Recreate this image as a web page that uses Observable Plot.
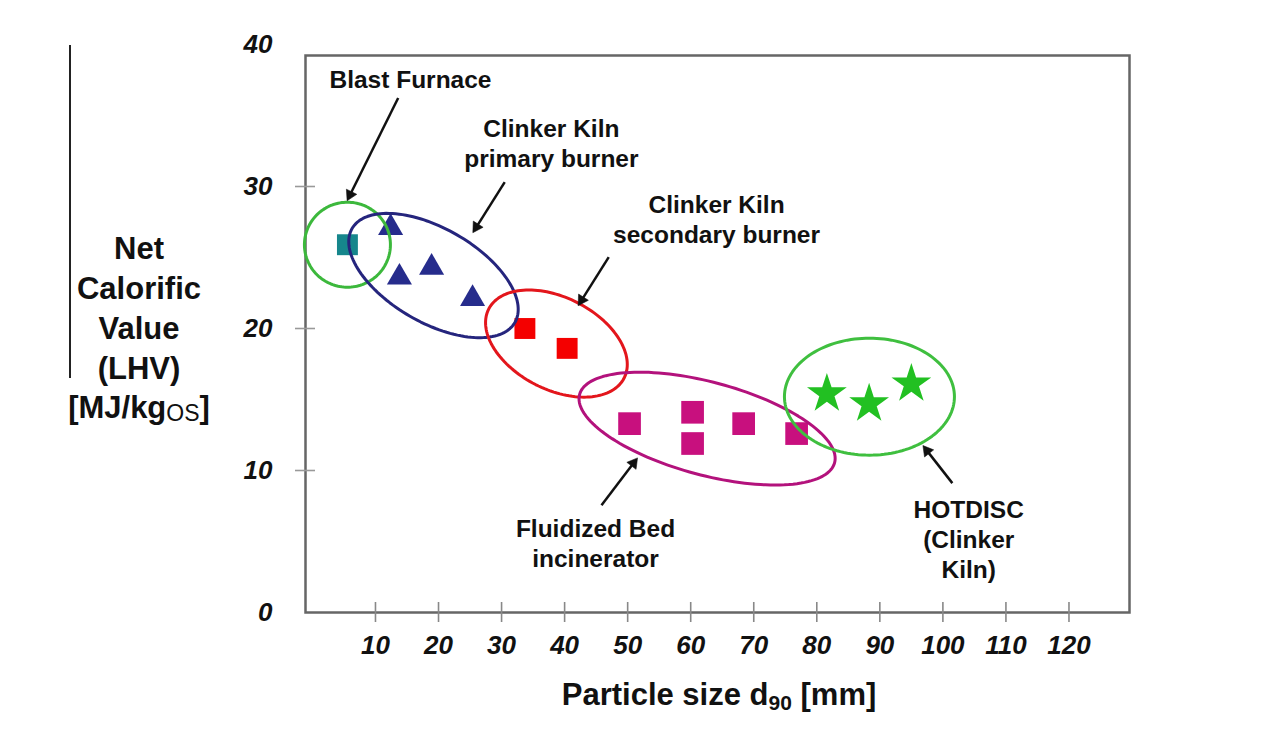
<!DOCTYPE html>
<html><head><meta charset="utf-8">
<script src="https://cdn.jsdelivr.net/npm/d3@7"></script>
<script src="https://cdn.jsdelivr.net/npm/@observablehq/plot@0.6"></script>
<style>
body{margin:0;background:#fff;}
#chart{width:1264px;height:730px;}
</style></head><body><div id="chart"></div>
<script>
// ---- data ----
const xTicks = [10, 20, 30, 40, 50, 60, 70, 80, 90, 100, 110, 120];
const yTicks = [0, 10, 20, 30, 40];
const yTickMarks = [10, 20, 30];

const blastX = [5.55];
const blastY = [25.9];
const primaryX = [12.4, 13.8, 18.9, 25.4];
const primaryY = [27.1, 23.6, 24.3, 22.1];
const secondaryX = [33.7, 40.4];
const secondaryY = [20.0, 18.6];
const fluidX = [50.3, 60.3, 60.3, 68.4, 76.8];
const fluidY = [13.3, 14.1, 11.9, 13.3, 12.6];
const hotdiscX = [81.6, 88.3, 95.0];
const hotdiscY = [15.4, 14.7, 16.1];

const labelTexts = ["Blast Furnace", "Clinker Kiln\nprimary burner", "Clinker Kiln\nsecondary burner", "Fluidized Bed\nincinerator", "HOTDISC\n(Clinker\nKiln)"];
const labelX = [15.55, 37.9, 64.1, 44.9, 104.1];
const labelY = [37.63, 33.13, 27.74, 4.92, 5.24];

const arrowX1 = [13.6, 30.5, 47.0, 45.85, 101.5];
const arrowY1 = [36.23, 30.31, 25.03, 7.56, 9.11];
const arrowX2 = [5.55, 25.5, 42.2, 51.5, 96.9];
const arrowY2 = [29.04, 26.79, 21.65, 10.85, 11.72];

// group ellipses: centre in data units
const ellCX = [5.55, 19.2, 38.7, 62.6, 88.35];
const ellCY = [25.9, 23.73, 18.94, 12.95, 15.2];

// ---- layout / style ----
const W = 1264, H = 730, mL = 305, mR = 135, mT = 44, mB = 118;
const xDomain = [-1.1, 129.6], yDomain = [0, 40];
const kx = (W - mL - mR) / (xDomain[1] - xDomain[0]);
const ky = (H - mT - mB) / (yDomain[1] - yDomain[0]);
const FONT = "'Liberation Sans', Arial, Helvetica, sans-serif";
const ellShape = [
  {a: 43, b: 42.5, deg: 0, color: "#3cb83c"},
  {a: 94, b: 47, deg: 30, color: "#25257d"},
  {a: 76, b: 46, deg: 27, color: "#e3161c"},
  {a: 132, b: 46.5, deg: 15, color: "#b3127c"},
  {a: 85, b: 58.5, deg: 0, color: "#3fbf3f"}
];

function ellipse(cx, cy, a, b, deg) {
  const th = deg * Math.PI / 180, pts = [];
  for (let i = 0; i < 144; i++) {
    const t = i / 144 * 2 * Math.PI;
    const px = a * Math.cos(t), py = b * Math.sin(t);
    const X = px * Math.cos(th) - py * Math.sin(th);
    const Y = px * Math.sin(th) + py * Math.cos(th);
    pts.push({x: cx + X / kx, y: cy - Y / ky});
  }
  return pts;
}
const zip = (xs, ys) => xs.map((x, i) => ({x, y: ys[i]}));

const labels = labelTexts.map((t, i) => ({t, x: labelX[i], y: labelY[i]}));
const HEAD_BACK = 6; // px from tip to arrowhead centroid
const arrows = arrowX1.map((x1, i) => {
  const x2 = arrowX2[i], y2 = arrowY2[i], y1 = arrowY1[i];
  const dxp = (x2 - x1) * kx, dyp = -(y2 - y1) * ky; // screen vector
  const len = Math.hypot(dxp, dyp);
  const ux = dxp / len, uy = dyp / len;
  return {
    x1, y1, x2, y2,
    hx: x2 - ux * HEAD_BACK / kx, hy: y2 + uy * HEAD_BACK / ky,
    lx: x2 - ux * (HEAD_BACK + 2) / kx, ly: y2 + uy * (HEAD_BACK + 2) / ky,
    rot: Math.atan2(ux, -uy) * 180 / Math.PI
  };
});

const ellMarks = ellCX.map((cx, i) => Plot.line(ellipse(cx, ellCY[i], ellShape[i].a, ellShape[i].b, ellShape[i].deg),
  {x: "x", y: "y", curve: "linear-closed", stroke: ellShape[i].color, strokeWidth: 3}));

const frameH = H - mT - mB, frameW = W - mL - mR;

const plot = Plot.plot({
  width: W, height: H,
  marginLeft: mL, marginRight: mR, marginTop: mT, marginBottom: mB,
  x: {domain: xDomain},
  y: {domain: yDomain},
  style: {fontFamily: FONT, background: "white", color: "#111"},
  marks: [
    Plot.frame({insetTop: 11, stroke: "#666", strokeWidth: 2.5}),
    Plot.ruleX(xTicks, {stroke: "#888", strokeWidth: 1.6, insetTop: frameH - 10, insetBottom: -10}),
    Plot.ruleY(yTickMarks, {stroke: "#999", strokeWidth: 1.6, insetLeft: -10, insetRight: frameW - 10}),
    Plot.axisX(xTicks, {tickSize: 0, tickPadding: 23, fontSize: 26, fontStyle: "italic", fontWeight: "bold", label: null, fill: "#111"}),
    Plot.axisY(yTicks, {tickSize: 0, tickPadding: 33, fontSize: 26, fontStyle: "italic", fontWeight: "bold", label: null, fill: "#111"}),
    Plot.dot(zip(blastX, blastY), {x: "x", y: "y", symbol: "square", r: 11.8, fill: "#16868c"}),
    Plot.dot(zip(primaryX, primaryY), {x: "x", y: "y", symbol: "triangle", r: 9.3, fill: "#262c8c"}),
    Plot.dot(zip(secondaryX, secondaryY), {x: "x", y: "y", symbol: "square", r: 11.8, fill: "#f40000"}),
    Plot.dot(zip(fluidX, fluidY), {x: "x", y: "y", symbol: "square", r: 12.8, fill: "#c8107e"}),
    Plot.dot(zip(hotdiscX, hotdiscY), {x: "x", y: "y", symbol: "star", r: 12.5, fill: "#22c022"}),
    ...ellMarks,
    Plot.link(arrows, {x1: "x1", y1: "y1", x2: "lx", y2: "ly", stroke: "#111", strokeWidth: 2.5}),
    Plot.dot(arrows, {x: "hx", y: "hy", symbol: "triangle", r: 4.3, rotate: "rot", fill: "#111", stroke: "#111", strokeWidth: 0.5}),
    Plot.text(labels, {x: "x", y: "y", text: "t", fontSize: 24.5, fontWeight: "bold", lineHeight: 1.22, fill: "#111"})
  ]
});
document.getElementById("chart").appendChild(plot);

// axis titles and decoration
const svg = d3.select(plot);
svg.append("line").attr("x1", 70).attr("x2", 70).attr("y1", 45).attr("y2", 378)
  .attr("stroke", "#222").attr("stroke-width", 2);
const yTitle = ["Net", "Calorific", "Value", "(LHV)"];
const yt = svg.append("text").attr("text-anchor", "middle").attr("font-family", FONT)
  .attr("font-weight", "bold").attr("font-size", 31).attr("fill", "#111");
yTitle.forEach((l, i) => yt.append("tspan").attr("x", 139).attr("y", 259 + i * 40).text(l));
const yl = svg.append("text").attr("text-anchor", "middle").attr("font-family", FONT)
  .attr("font-weight", "bold").attr("font-size", 31).attr("fill", "#111").attr("x", 139).attr("y", 418);
yl.append("tspan").text("[MJ/kg");
yl.append("tspan").attr("font-size", 23).attr("font-weight", "normal").attr("dy", 3).text("OS");
yl.append("tspan").attr("dy", -3).text("]");

const xt = svg.append("text").attr("text-anchor", "middle").attr("font-family", FONT)
  .attr("font-weight", "bold").attr("font-size", 31).attr("fill", "#111").attr("x", 719).attr("y", 705);
xt.append("tspan").text("Particle size d");
xt.append("tspan").attr("font-size", 21).attr("dy", 5).text("90");
xt.append("tspan").attr("dy", -5).text(" [mm]");
</script>
</body></html>
